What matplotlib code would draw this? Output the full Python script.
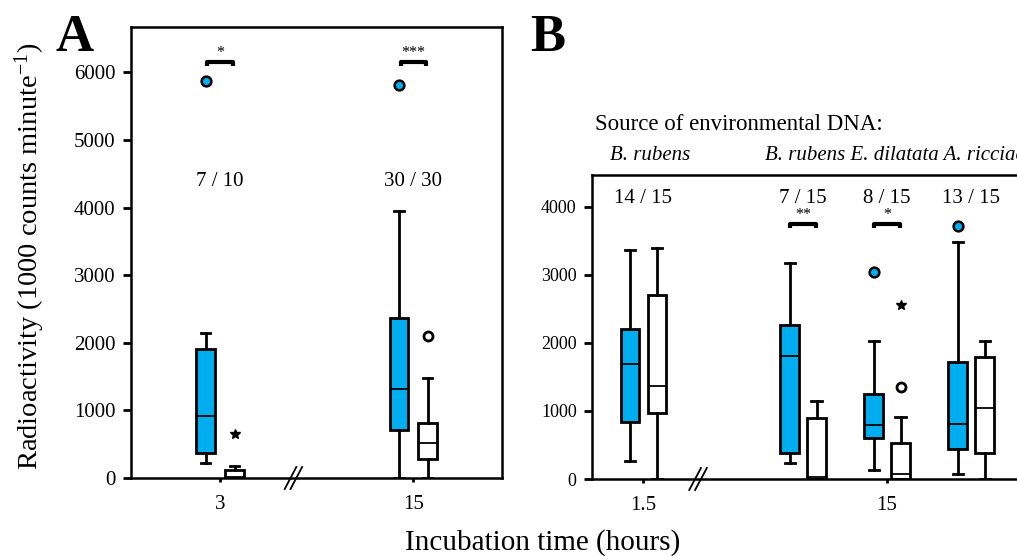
import matplotlib
matplotlib.use("Agg")
import matplotlib.pyplot as plt
from matplotlib.transforms import blended_transform_factory

plt.rcParams['font.family'] = ['Liberation Serif', 'DejaVu Serif']
plt.rcParams['mathtext.default'] = 'regular'

BLUE = '#00AEEF'

# panel A: incubation 3 h and 15 h
a_ticks = ['3', '15']
a_pos = [1.0, 3.0]
a_blue_lo = [217, 0]
a_blue_q1 = [374, 710]
a_blue_med = [922, 1321]
a_blue_q3 = [1904, 2362]
a_blue_hi = [2140, 3950]
a_white_lo = [0, 0]
a_white_q1 = [0, 281]
a_white_med = [20, 518]
a_white_q3 = [118, 818]
a_white_hi = [177, 1475]
a_blue_out = [5870, 5814]
a_white_circle = [None, 2100]
a_white_star = [646, None]
a_counts = ['7 / 10', '30 / 30']
a_signif = ['*', '***']

# panel B: 1.5 h (B. rubens) and 15 h (three DNA sources)
b_ticks = ['1.5', '15']
b_tick_idx = [0, 2]
b_pos = [1.1, 3.0, 4.0, 5.0]
b_blue_lo = [260, 235, 132, 74]
b_blue_q1 = [843, 387, 608, 446]
b_blue_med = [1691, 1804, 794, 804]
b_blue_q3 = [2201, 2265, 1250, 1725]
b_blue_hi = [3368, 3181, 2029, 3490]
b_white_lo = [0, 0, 0, 0]
b_white_q1 = [975, 0, 0, 382]
b_white_med = [1372, 34, 78, 1049]
b_white_q3 = [2706, 892, 525, 1794]
b_white_hi = [3392, 1152, 917, 2029]
b_blue_out = [None, None, 3049, 3725]
b_white_circle = [None, None, 1348, None]
b_white_star = [None, None, 2559, None]
b_counts = ['14 / 15', '7 / 15', '8 / 15', '13 / 15']
b_signif = [None, '**', '*', None]


def make_stats(lo, q1, med, q3, hi):
    return [dict(whislo=a, q1=b, med=c, q3=d, whishi=e, fliers=[])
            for a, b, c, d, e in zip(lo, q1, med, q3, hi)]


def draw_boxes(ax, pos, off, width, capw, blue, white):
    common = dict(widths=width, patch_artist=True, manage_ticks=False,
                  whiskerprops=dict(color='black', lw=2),
                  capprops=dict(color='black', lw=2),
                  medianprops=dict(color='black', lw=1.3),
                  capwidths=capw, showfliers=False)
    ax.bxp(blue, positions=[p - off for p in pos],
           boxprops=dict(facecolor=BLUE, edgecolor='black', lw=2), **common)
    ax.bxp(white, positions=[p + off for p in pos],
           boxprops=dict(facecolor='white', edgecolor='black', lw=2), **common)


def draw_outliers(ax, pos, off, blue_out, circ, star):
    for p, b, c, s in zip(pos, blue_out, circ, star):
        if b is not None:
            ax.plot(p - off, b, 'o', ms=7, mfc=BLUE, mec='black', mew=1.8, zorder=5)
        if c is not None:
            ax.plot(p + off, c, 'o', ms=6.5, mfc='white', mec='black', mew=2, zorder=5)
        if s is not None:
            ax.plot(p + off, s, '*', ms=7, color='black', zorder=5)


def draw_bracket(ax, x0, x1, y, dy, label):
    ax.plot([x0, x0, x1, x1], [y - dy, y, y, y - dy], color='black', lw=3,
            solid_capstyle='butt', clip_on=False)
    ax.text((x0 + x1) / 2, y + dy * 0.3, label, ha='center', va='bottom', fontsize=11.5)


def draw_break(ax, x, dx):
    tr = blended_transform_factory(ax.transData, ax.transAxes)
    h = 11.0 / (ax.bbox.height)
    for s in (-dx / 2, dx / 2):
        ax.plot([x + s - dx, x + s + dx], [-h, h], color='black', lw=1.3,
                transform=tr, clip_on=False, zorder=6)


def style_axes(ax, ymax, yticks, ysize):
    ax.set_ylim(0, ymax)
    ax.set_yticks(yticks)
    ax.tick_params(axis='y', direction='out', length=6, width=2, pad=5,
                   labelsize=ysize)
    ax.tick_params(axis='x', direction='out', length=3, width=2, pad=9,
                   labelsize=15)
    for sp in ax.spines.values():
        sp.set_linewidth(1.8)


fig = plt.figure(figsize=(10.17, 5.56), dpi=100)

# ---- panel A
axA = fig.add_axes([131 / 1017, 1 - 478 / 556, 371 / 1017, 451 / 556])
axA.set_xlim(0.078, 3.92)
style_axes(axA, 6670, [0, 1000, 2000, 3000, 4000, 5000, 6000], 15)
draw_boxes(axA, a_pos, 0.15, 0.19, 0.1,
           make_stats(a_blue_lo, a_blue_q1, a_blue_med, a_blue_q3, a_blue_hi),
           make_stats(a_white_lo, a_white_q1, a_white_med, a_white_q3, a_white_hi))
draw_outliers(axA, a_pos, 0.15, a_blue_out, a_white_circle, a_white_star)
axA.set_xticks(a_pos)
axA.set_xticklabels(a_ticks)
for p, t, s in zip(a_pos, a_counts, a_signif):
    axA.text(p, 4380, t, ha='center', va='center', fontsize=15)
    draw_bracket(axA, p - 0.13, p + 0.13, 6154, 60, s)
draw_break(axA, 1.76, 0.06)

# ---- panel B
axB = fig.add_axes([592 / 1017, 1 - 479 / 556, 448 / 1017, 304 / 556])
axB.set_xlim(0.488, 5.82)
style_axes(axB, 4470, [0, 1000, 2000, 3000, 4000], 13)
draw_boxes(axB, b_pos, 0.16, 0.22, 0.12,
           make_stats(b_blue_lo, b_blue_q1, b_blue_med, b_blue_q3, b_blue_hi),
           make_stats(b_white_lo, b_white_q1, b_white_med, b_white_q3, b_white_hi))
draw_outliers(axB, b_pos, 0.16, b_blue_out, b_white_circle, b_white_star)
axB.set_xticks([b_pos[i] for i in b_tick_idx])
axB.set_xticklabels(b_ticks)
for p, t, s in zip(b_pos, b_counts, b_signif):
    axB.text(p, 4130, t, ha='center', va='center', fontsize=15)
    if s is not None:
        draw_bracket(axB, p - 0.155, p + 0.155, 3750, 60, s)
draw_break(axB, 1.75, 0.07)

# headings and labels
fig.text(595 / 1017, 1 - 125 / 556, 'Source of environmental DNA:',
         ha='left', va='center', fontsize=16.5)
fig.text(610 / 1017, 1 - 155 / 556, 'B. rubens', ha='left', va='center',
         fontsize=15, style='italic')
fig.text(765 / 1017, 1 - 155 / 556, 'B. rubens E. dilatata A. ricciae',
         ha='left', va='center', fontsize=15, style='italic')

fig.text(30 / 1017, 1 - 256 / 556, 'Radioactivity (1000 counts minute$^{-1}$)',
         rotation=90, ha='center', va='center', fontsize=20.5)
fig.text(543 / 1017, 1 - 543 / 556, 'Incubation time (hours)',
         ha='center', va='center', fontsize=21)

fig.text(75 / 1017, 1 - 51 / 556, 'A', ha='center', va='baseline',
         fontsize=38, fontweight='bold')
fig.text(548 / 1017, 1 - 51 / 556, 'B', ha='center', va='baseline',
         fontsize=38, fontweight='bold')

fig.savefig('out.png', dpi=100)
